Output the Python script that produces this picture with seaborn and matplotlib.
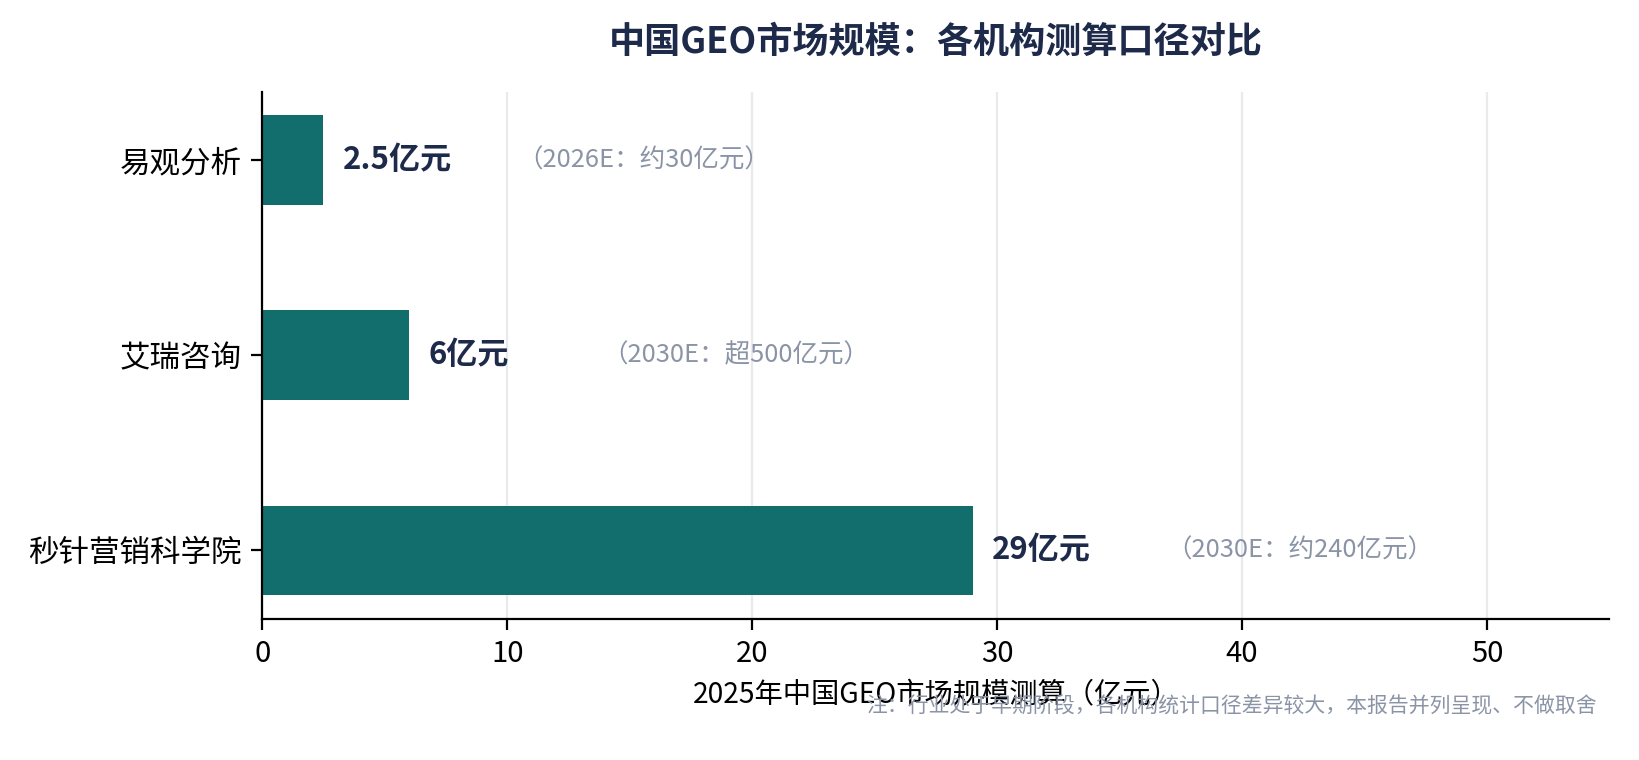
import pandas as pd
import matplotlib
matplotlib.use("Agg")
import matplotlib.pyplot as plt
import seaborn as sns

# data
agencies = ['易观分析', '艾瑞咨询', '秒针营销科学院']
size_2025 = [2.5, 6, 29]
value_labels = ['2.5亿元', '6亿元', '29亿元']
forecast_labels = ['（2026E：约30亿元）', '（2030E：超500亿元）', '（2030E：约240亿元）']

df = pd.DataFrame({'agency': agencies, 'size': size_2025})

sns.set_theme(style='white')
plt.rcParams['font.family'] = ['Noto Sans CJK SC', 'DejaVu Sans']

fig, ax = plt.subplots(figsize=(8.195, 3.8), dpi=200)
fig.subplots_adjust(left=0.160, right=0.982, top=0.879, bottom=0.186)

ax.set_axisbelow(True)
ax.xaxis.grid(True, color='#e8eaee', linewidth=0.8)

sns.barplot(data=df, x='size', y='agency', color='#126e6c', width=0.46,
            saturation=1, linewidth=0, ax=ax, zorder=2)

for i, (v, lab, fc) in enumerate(zip(size_2025, value_labels, forecast_labels)):
    ax.text(v + 0.8, i, lab, va='center', ha='left', fontsize=11.2,
            fontweight='bold', color='#1e2a4a')
    ax.text(v + 7.9, i, fc, va='center', ha='left', fontsize=9.2,
            color='#8a94a6')

ax.set_xlim(0, 55)
ax.set_ylim(2.35, -0.35)
ax.set_xticks([0, 10, 20, 30, 40, 50])
ax.set_xlabel('2025年中国GEO市场规模测算（亿元）', fontsize=10.2, color='black')
ax.set_ylabel('')
ax.tick_params(axis='both', labelsize=10.5, colors='black', length=4, width=0.8,
               bottom=True, left=True)
ax.tick_params(axis='y', labelsize=11)

sns.despine(ax=ax)
for s in ['left', 'bottom']:
    ax.spines[s].set_color('black')
    ax.spines[s].set_linewidth(0.8)

ax.set_title('中国GEO市场规模：各机构测算口径对比', fontsize=13, fontweight='bold',
             color='#1e2a4a', pad=14)

fig.text(0.974, 0.07, '注：行业处于早期阶段，各机构统计口径差异较大，本报告并列呈现、不做取舍',
         ha='right', va='center', fontsize=7.5, color='#8a94a6')

fig.savefig('out.png', dpi=200)
